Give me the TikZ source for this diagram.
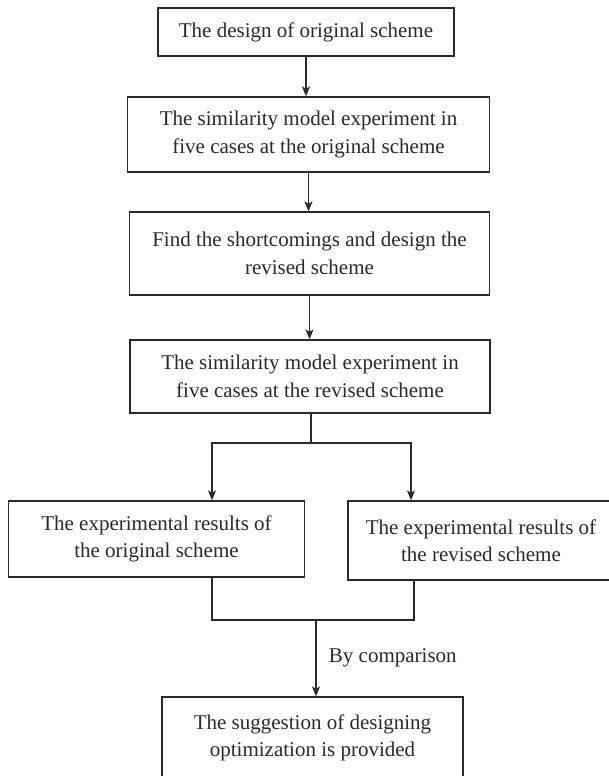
\documentclass[tikz,border=0pt]{standalone}
\usepackage{fontspec}
\setmainfont{Liberation Serif}
\usetikzlibrary{arrows.meta}
\definecolor{ink}{HTML}{2A2A2A}
\begin{document}
\begin{tikzpicture}[x=1pt,y=-1pt,
  box/.style={draw=ink,line width=1.3pt,rectangle,align=center,inner sep=0pt,
    font=\fontsize{21}{27.5}\selectfont,text=ink},
  arr/.style={draw=ink,line width=1.3pt,-{Stealth[length=10pt,width=8pt,inset=2.5pt]}},
  ln/.style={draw=ink,line width=1.3pt}]
\useasboundingbox[fill=white] (0,0) rectangle (609,777);
\node[box,minimum width=296pt,minimum height=48pt] (b1) at (306,32) {The design of original scheme};
\node[box,minimum width=362pt,minimum height=75pt] (b2) at (308.5,134.5) {The similarity model experiment in\\five cases at the original scheme};
\node[box,minimum width=360pt,minimum height=83pt] (b3) at (309.5,253.5) {Find the shortcomings and design the\\revised scheme};
\node[box,minimum width=360pt,minimum height=73pt] (b4) at (310,376.5) {The similarity model experiment in\\five cases at the revised scheme};
\node[box,minimum width=296pt,minimum height=76pt] (b5) at (156.5,539) {The experimental results of\\the original scheme};
\node[box,minimum width=266pt,minimum height=79pt] (b6) at (481,540.5) {The experimental results of\\the revised scheme};
\node[box,minimum width=301pt,minimum height=82pt] (b7) at (312.5,738) {The suggestion of designing\\optimization is provided};
\coordinate (j1) at (311,443);
\coordinate (c5) at (212,443);
\coordinate (c6) at (411,443);
\coordinate (d5) at (212,620);
\coordinate (d6) at (414,620);
\coordinate (dm) at (316,620);
\draw[arr] (b1.south) -- (b1.south |- b2.north);
\draw[arr] (b2.south) -- (b2.south |- b3.north);
\draw[arr] (b3.south) -- (b3.south |- b4.north);
\draw[ln] (j1 |- b4.south) -- (j1);
\draw[arr] (j1) -| (c5 |- b5.north);
\draw[arr] (j1) -| (c6 |- b6.north);
\draw[ln] (d5 |- b5.south) -- (d5) -- (d6) -- (d6 |- b6.south);
\draw[arr] (dm) -- (dm |- b7.north) node[midway,right=9pt,font=\fontsize{21}{24}\selectfont,text=ink] (lbl) {By comparison};
\begin{scope}
\fill[white] (150,776.2) rectangle (470,780);
\end{scope}
\end{tikzpicture}
\end{document}
